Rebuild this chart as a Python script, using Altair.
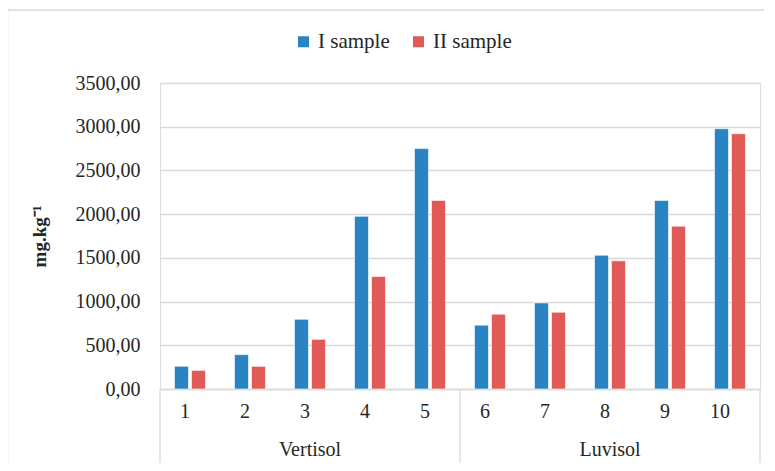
import altair as alt
import pandas as pd

# ---- data ----
samples = ["1", "2", "3", "4", "5", "6", "7", "8", "9", "10"]
soils = ["Vertisol"] * 5 + ["Luvisol"] * 5
sample_I = [260, 393, 797, 1975, 2750, 730, 985, 1530, 2157, 2977]
sample_II = [213, 259, 568, 1288, 2157, 856, 878, 1466, 1862, 2920]
series_names = ["I sample", "II sample"]
series_colors = ["#2A83C2", "#E15A57"]
y_ticks = [0, 500, 1000, 1500, 2000, 2500, 3000, 3500]
group_labels = ["Vertisol", "Luvisol"]
group_center_sample = ["3", "8"]
y_title = "mg.kg⁻¹"

rows = []
for s, soil, a, b in zip(samples, soils, sample_I, sample_II):
    rows.append({"sample": s, "soil": soil, "series": series_names[0], "value": a})
    rows.append({"sample": s, "soil": soil, "series": series_names[1], "value": b})
df = pd.DataFrame(rows)

W, H = 600, 306
FONT = "Liberation Serif"
TXT = "#262626"
GRID = "#d9d9d9"
P_IN = 0.483
STEP = W / len(samples)
EDGE_PX = P_IN * STEP / 2  # distance from band edge to step edge

x_scale = alt.Scale(domain=samples, paddingInner=P_IN, paddingOuter=P_IN / 2)

bars = alt.Chart(df).mark_bar(stroke="white", strokeWidth=0.6).encode(
    x=alt.X("sample:N", scale=x_scale, sort=samples,
            axis=alt.Axis(title=None, labelAngle=0, tickSize=0, labelPadding=22,
                          labelBaseline="middle",
                          domainColor=GRID, domainWidth=1.3, grid=False,
                          labelFont=FONT, labelFontSize=20, labelColor=TXT)),
    xOffset=alt.XOffset("series:N", sort=series_names,
                        scale=alt.Scale(paddingInner=0.176, paddingOuter=0)),
    y=alt.Y("value:Q", scale=alt.Scale(domain=[0, 3500], nice=False),
            axis=alt.Axis(values=y_ticks, tickSize=0, domain=False,
                          labelExpr="replace(format(datum.value, '.2f'), '.', ',')",
                          gridColor=GRID, gridWidth=1.3, labelPadding=20,
                          labelFont=FONT, labelFontSize=20, labelColor=TXT,
                          title=y_title, titleFont=FONT, titleFontSize=19,
                          titleFontWeight="bold", titleColor=TXT,
                          titleX=-121, titleY=H / 2, titleAngle=270,
                          titleAlign="center", titleBaseline="middle")),
    color=alt.Color("series:N", scale=alt.Scale(domain=series_names, range=series_colors),
                    legend=alt.Legend(title=None, orient="none", legendX=133, legendY=-52,
                                      direction="horizontal", symbolType="square",
                                      symbolSize=121, symbolStrokeWidth=0,
                                      labelFont=FONT, labelFontSize=21, labelColor=TXT,
                                      columnPadding=18, labelOffset=4)),
)

grp_df = pd.DataFrame({"sample": group_center_sample, "label": group_labels})
group_text = alt.Chart(grp_df).mark_text(font=FONT, fontSize=20, color=TXT,
                                         baseline="middle", align="center").encode(
    x=alt.X("sample:N", scale=x_scale, sort=samples, bandPosition=0.5),
    y=alt.value(H + 61),
    text="label:N",
)

left_sep = alt.Chart(pd.DataFrame({"sample": [samples[0]]})).mark_rule(
    color=GRID, strokeWidth=1.3, xOffset=-EDGE_PX).encode(
    x=alt.X("sample:N", scale=x_scale, sort=samples, bandPosition=0),
    y=alt.value(H), y2=alt.value(H + 80),
)
right_sep = alt.Chart(pd.DataFrame({"sample": [samples[4], samples[9]]})).mark_rule(
    color=GRID, strokeWidth=1.3, xOffset=EDGE_PX).encode(
    x=alt.X("sample:N", scale=x_scale, sort=samples, bandPosition=1),
    y=alt.value(H), y2=alt.value(H + 80),
)

frame = alt.Chart(pd.DataFrame({"a": [0]})).mark_rect(
    fill=None, stroke=GRID, strokeWidth=1.5).encode(
    x=alt.value(-152.5), y=alt.value(-73), x2=alt.value(W + 60), y2=alt.value(H + 120),
)

chart = alt.layer(frame, left_sep, right_sep, bars, group_text).properties(
    width=W, height=H,
    autosize=alt.AutoSizeParams(type="none"),
    padding={"left": 152, "top": 75, "right": 4, "bottom": 74},
).configure_view(stroke=None).configure(background="white")

chart.save("out.html", embed_options={"renderer": "svg", "actions": False})
